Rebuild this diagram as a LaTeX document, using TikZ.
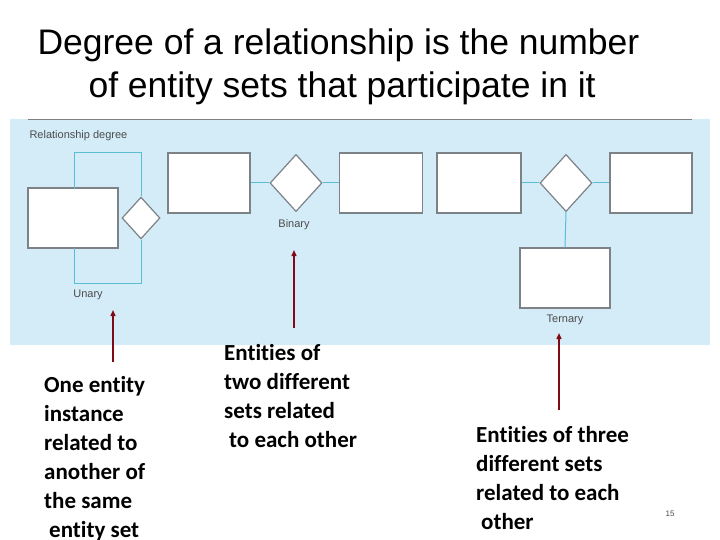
\documentclass[tikz,border=0pt]{standalone}
\usepackage{fontspec}
\setmainfont{Liberation Sans}
\newfontfamily\notefont[Ligatures=NoCommon]{Carlito}
\usetikzlibrary{shapes.geometric,arrows.meta}
\definecolor{panelblue}{RGB}{212,236,248}
\definecolor{linkblue}{RGB}{90,190,210}
\definecolor{boxgray}{RGB}{125,130,135}
\definecolor{arrowred}{RGB}{130,10,20}
\tikzset{
  entitybox/.style={draw=boxgray,line width=1.2pt,fill=white,minimum width=#1,minimum height=60pt,inner sep=0pt},
  relation/.style={draw=boxgray,line width=1.2pt,fill=white,diamond,inner sep=0pt,minimum width=#1,minimum height=#1*1.1},
  link/.style={draw=linkblue,line width=1pt},
  tag/.style={font=\fontsize{11}{12}\selectfont,text=black!70},
  note/.style={font=\notefont\bfseries\fontsize{23}{29}\selectfont,align=left,anchor=north west,inner sep=0pt},
  pointer/.style={draw=arrowred,line width=1.4pt,-{Triangle[length=6pt,width=5pt]}}
}
\begin{document}
\begin{tikzpicture}[x=1pt,y=-1pt]
\useasboundingbox (0,0) rectangle (720,540);
\fill[white] (0,0) rectangle (720,540);
% title
\node[font=\fontsize{35.5}{40}\selectfont,anchor=west] (title1) at (34,45) {Degree of a relationship is the number};
\node[font=\fontsize{35.5}{40}\selectfont,anchor=west] (title2) at (85,88) {of entity sets that participate in it};
% panel
\fill[panelblue] (10,119) rectangle (710,345);
\draw[gray,line width=0.8pt] (28,119) -- (692,119);
\node[tag,anchor=west] (head) at (26,136) {Relationship degree};
% unary
\node[entitybox=90pt] (u1) at (73,218) {};
\node[relation=38pt] (ur) at (141,218) {};
\draw[link] (74,189) -- (74,153) -- (141,153) -- (ur.north);
\draw[link] (74,248) -- (74,283) -- (141,283) -- (ur.south);
\node[tag] (unary) at (88,295) {Unary};
% binary
\node[entitybox=82pt] (b1) at (209,183) {};
\node[relation=52pt] (br) at (296,183) {};
\node[entitybox=83pt] (b2) at (381,183) {};
\draw[link] (b1) -- (br) -- (b2);
\node[tag] (binary) at (294,225) {Binary};
% ternary
\node[entitybox=84pt] (t1) at (479,183) {};
\node[relation=52pt] (tr) at (566,183) {};
\node[entitybox=82pt] (t2) at (651,183) {};
\node[entitybox=90pt] (t3) at (565,278) {};
\draw[link] (t1) -- (tr) -- (t2);
\draw[link] (tr.south) -- (t3.north);
\node[tag] (ternary) at (565,320) {Ternary};
% notes
\coordinate (ua) at (113,310);
\coordinate (ba) at (294,250);
\coordinate (ta) at (559,333);
\node[note] (unote) at (44,376) {One entity\\instance\\related to\\another of\\the same\\\hspace*{5pt}entity set};
\node[note] (bnote) at (224,344) {Entities of\\two different\\sets related\\\hspace*{5pt}to each other};
\node[note] (tnote) at (476,426) {Entities of three\\different sets\\related to each\\\hspace*{5pt}other};
\draw[pointer] (113,362) -- (ua);
\draw[pointer] (294,328) -- (ba);
\draw[pointer] (559,410) -- (ta);
\node[font=\fontsize{8}{9}\selectfont,text=black!70] (page) at (670,514) {15};
\end{tikzpicture}
\end{document}
